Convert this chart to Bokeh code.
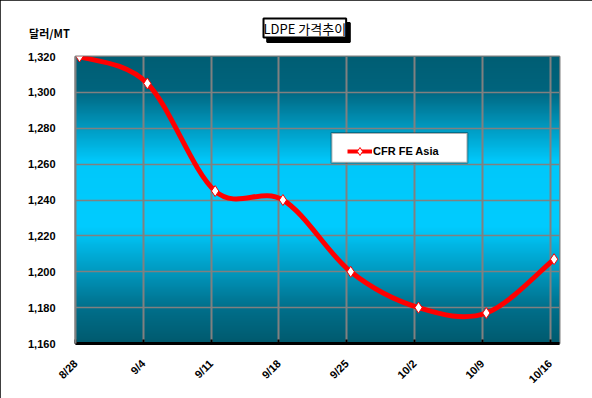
import numpy as np
from bokeh.plotting import figure
from bokeh.models import (FixedTicker, NumeralTickFormatter, Label, Legend, LegendItem,
                          BoxAnnotation, Range1d, Title)
from bokeh.embed import file_html
from bokeh.resources import INLINE

# ---- data ----
categories = ["8/28", "9/4", "9/11", "9/18", "9/25", "10/2", "10/9", "10/16"]
prices = [1320, 1305, 1245, 1240, 1200, 1180, 1177, 1207]
y_ticks = [1160, 1180, 1200, 1220, 1240, 1260, 1280, 1300, 1320]
series_name = "CFR FE Asia"
title_text = "LDPE 가격추이"
unit_text = "달러/MT"

FONT = "Liberation Sans"
KFONT = "Noto Sans CJK KR"

n = len(categories)
offset = 0.06
xs = np.arange(n) + offset
ys = np.array(prices, dtype=float)

W, Hh = 592, 398
FL, FB = 75, 343  # frame left / bottom in canvas px
p = figure(width=W, height=Hh, output_backend="svg", toolbar_location=None,
           x_range=Range1d(0, 7.14), y_range=Range1d(1160, 1320),
           min_border_left=FL, min_border_right=33, min_border_top=54, min_border_bottom=Hh - FB)
p.background_fill_color = "white"
p.border_fill_color = "white"
p.outline_line_color = "#808080"
p.outline_line_width = 2
p.styles = {"outline": "2px solid black", "outline-offset": "-2px"}
p.title.visible = False

# 'above' side panel rows (nearest the frame first): title shadow, title, unit label
p.add_layout(Label(x=308 - FL, y=54 - 30, x_units="screen", y_units="screen", text=title_text,
                   text_align="center", text_baseline="middle", text_font=KFONT,
                   text_font_size="13px", text_color="black", background_fill_color="black",
                   border_line_color="black", border_line_width=2, padding=0),
             "above")
p.add_layout(Title(text=title_text, align="left", offset=263 - FL, text_font=KFONT,
                   text_font_size="13px", text_font_style="normal", text_color="black",
                   background_fill_color="white", border_line_color="black", border_line_width=2,
                   standoff=0, padding=0, level="overlay"), "above")
p.add_layout(Label(x=49 - FL, y=16 - 32, x_units="screen", y_units="screen", text=unit_text,
                   text_align="center", text_baseline="middle", text_font=KFONT,
                   text_font_size="11px", text_font_style="bold", text_color="black"),
             "above")

# gradient background of plot area
H = 320
yy = np.linspace(1160, 1320, H)
stops_y = [1160, 1180, 1225, 1262, 1302, 1320]
stops_c = np.array([[0, 90, 110], [0, 112, 140], [0, 204, 255], [0, 200, 250], [0, 100, 125], [0, 94, 116]], float)
r = np.interp(yy, stops_y, stops_c[:, 0])
g = np.interp(yy, stops_y, stops_c[:, 1])
b = np.interp(yy, stops_y, stops_c[:, 2])
img = np.zeros((H, 1), dtype=np.uint32)
view = img.view(dtype=np.uint8).reshape((H, 1, 4))
view[:, 0, 0] = r.astype(np.uint8)
view[:, 0, 1] = g.astype(np.uint8)
view[:, 0, 2] = b.astype(np.uint8)
view[:, 0, 3] = 255
p.image_rgba(image=[img], x=0, y=1160, dw=7.14, dh=160, level="image")

# axes
p.yaxis.ticker = FixedTicker(ticks=y_ticks)
p.yaxis.formatter = NumeralTickFormatter(format="0,0")
p.xaxis.ticker = FixedTicker(ticks=list(range(n)))
p.xaxis.major_label_overrides = {i: c for i, c in enumerate(categories)}
p.xaxis.major_label_orientation = np.pi / 4
for ax in (p.xaxis[0], p.yaxis[0]):
    ax.major_label_text_font = FONT
    ax.major_label_text_font_style = "bold"
    ax.major_label_text_font_size = "11px"
    ax.major_label_text_color = "black"
    ax.minor_tick_line_color = None
p.yaxis.axis_line_color = "#808080"
p.yaxis.axis_line_width = 2
p.yaxis.major_tick_line_color = None
p.yaxis.major_label_standoff = 14
p.xaxis.axis_line_color = "black"
p.xaxis.axis_line_width = 3
p.xaxis.major_tick_line_color = "black"
p.xaxis.major_tick_line_width = 2
p.xaxis.major_tick_in = 4
p.xaxis.major_tick_out = 0
p.xaxis.major_label_standoff = 18

p.xgrid.grid_line_color = "#808080"
p.xgrid.grid_line_width = 2
p.ygrid.grid_line_color = "#808080"
p.ygrid.grid_line_width = 1.5

# smoothed line (Excel-like Catmull-Rom bezier), drawn from the data points
P = np.column_stack([xs, ys])
Pext = np.vstack([P[0], P, P[-1]])
x0, y0, x1, y1, cx0, cy0, cx1, cy1 = ([] for _ in range(8))
for i in range(n - 1):
    pm1, p0, p1, p2 = Pext[i], Pext[i + 1], Pext[i + 2], Pext[i + 3]
    c0 = p0 + (p1 - pm1) / 6.0
    c1 = p1 - (p2 - p0) / 6.0
    x0.append(p0[0]); y0.append(p0[1]); x1.append(p1[0]); y1.append(p1[1])
    cx0.append(c0[0]); cy0.append(c0[1]); cx1.append(c1[0]); cy1.append(c1[1])
p.bezier(x0=x0, y0=y0, x1=x1, y1=y1, cx0=cx0, cy0=cy0, cx1=cx1, cy1=cy1,
         line_color="#FF0000", line_width=5, line_cap="round")
p.scatter(xs, ys, marker="diamond", size=11, fill_color="white",
          line_color="#FF0000", line_width=1)

# legend box
px_x = 67.8
px_y = 289 / 160.0
p.add_layout(BoxAnnotation(left=(331 - 75) / px_x, right=(467 - 75) / px_x,
                           top=1320 - (131 - 54) / px_y, bottom=1320 - (161 - 54) / px_y,
                           fill_color="white", fill_alpha=1, line_color="black", line_width=2))
dl = p.line(x=[np.nan], y=[np.nan], line_color="#FF0000", line_width=4)
ds = p.scatter(x=[np.nan], y=[np.nan], marker="diamond", size=9, fill_color="white", line_color="#FF0000")
legend = Legend(items=[LegendItem(label=series_name, renderers=[dl, ds])],
                location=(272, 182), padding=5, margin=0, glyph_width=25, glyph_height=20,
                label_standoff=1, background_fill_alpha=0, border_line_color=None,
                label_text_font=FONT, label_text_font_style="bold", label_text_font_size="11px",
                label_text_color="black")
p.add_layout(legend, "center")

open("out.html", "w").write(file_html(p, INLINE))
